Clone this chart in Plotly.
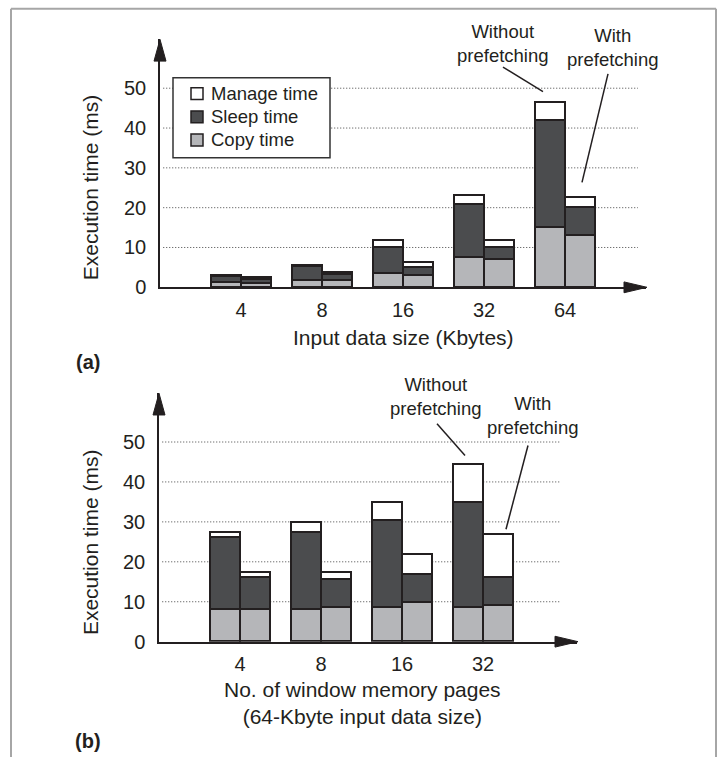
import plotly.graph_objects as go

# ---------------- data ----------------
sizes_kb = ["4", "8", "16", "32", "64"]
copy_without_a = [1.2, 1.8, 3.6, 7.5, 15.0]
sleep_without_a = [1.5, 3.4, 6.4, 13.2, 27.0]
manage_without_a = [0.4, 0.4, 1.9, 2.5, 4.4]
copy_with_a = [1.0, 1.8, 3.1, 6.9, 13.0]
sleep_with_a = [1.0, 1.5, 1.9, 3.0, 7.0]
manage_with_a = [0.5, 0.5, 1.3, 1.9, 2.5]

pages = ["4", "8", "16", "32"]
copy_without_b = [8.1, 8.1, 8.6, 8.6]
sleep_without_b = [18.1, 19.3, 21.9, 26.3]
manage_without_b = [1.2, 2.5, 4.4, 9.4]
copy_with_b = [8.1, 8.6, 9.9, 9.2]
sleep_with_b = [8.0, 7.0, 7.0, 7.0]
manage_with_b = [1.3, 1.8, 5.0, 10.6]

y_ticks = [0, 10, 20, 30, 40, 50]
legend_names = ["Manage time", "Sleep time", "Copy time"]

# ---------------- styling ----------------
W, H = 726, 768
FONT = "Liberation Sans"
INK = "#231f20"
C_COPY = "#b5b6b9"
C_SLEEP = "#4b4c4e"
C_MANAGE = "#ffffff"
BAR_W = 0.375


def px(x):
    return x / W


def py(y):
    return 1 - y / H


fig = go.Figure()


def add_panel(cats, comps, xa, ya):
    n = len(cats)
    xs = [i - BAR_W / 2 for i in range(n)] + [i + BAR_W / 2 for i in range(n)]
    for name, color, (wo, wi) in comps:
        fig.add_trace(go.Bar(
            x=xs, y=list(wo) + list(wi), width=BAR_W, name=name,
            marker=dict(color=color, line=dict(color=INK, width=2)),
            xaxis=xa, yaxis=ya, showlegend=False,
            hoverinfo="y",
        ))


add_panel(sizes_kb, [
    ("Copy time", C_COPY, (copy_without_a, copy_with_a)),
    ("Sleep time", C_SLEEP, (sleep_without_a, sleep_with_a)),
    ("Manage time", C_MANAGE, (manage_without_a, manage_with_a)),
], "x", "y")

add_panel(pages, [
    ("Copy time", C_COPY, (copy_without_b, copy_with_b)),
    ("Sleep time", C_SLEEP, (sleep_without_b, sleep_with_b)),
    ("Manage time", C_MANAGE, (manage_without_b, manage_with_b)),
], "x2", "y2")

xcommon = dict(showgrid=False, zeroline=False, showline=True, linecolor=INK,
               linewidth=1.5, ticks="", tickfont=dict(size=20, color=INK, family=FONT),
               ticklabelstandoff=4, fixedrange=True)
ycommon = dict(showgrid=False, zeroline=False, showline=True, linecolor=INK,
               linewidth=1.5, ticks="", tickvals=y_ticks,
               tickfont=dict(size=20, color=INK, family=FONT),
               ticklabelstandoff=8, fixedrange=True)

fig.update_layout(
    width=W, height=H,
    margin=dict(l=0, r=0, t=0, b=0),
    paper_bgcolor="white", plot_bgcolor="white",
    barmode="stack", bargap=0,
    font=dict(family=FONT, color=INK),
    xaxis=dict(domain=[px(160), px(646)], range=[-1, 5],
               tickvals=list(range(len(sizes_kb))), ticktext=sizes_kb,
               anchor="y", **xcommon),
    yaxis=dict(domain=[py(291.5), py(40)], range=[0, 62.25], anchor="x", **ycommon),
    xaxis2=dict(domain=[px(159), px(577)], range=[-1, 4.16],
                tickvals=list(range(len(pages))), ticktext=pages,
                anchor="y2", **xcommon),
    yaxis2=dict(domain=[py(651), py(399)], range=[0, 62.2], anchor="x2", **ycommon),
    showlegend=False,
)

shapes = []
# dotted gridlines
for v in y_ticks[1:]:
    shapes.append(dict(type="line", xref="x", yref="y", x0=-0.96, x1=4.9, y0=v, y1=v,
                       line=dict(color="#444444", width=1, dash="1px,2px"), layer="below"))
    shapes.append(dict(type="line", xref="x2", yref="y2", x0=-0.96, x1=3.96, y0=v, y1=v,
                       line=dict(color="#444444", width=1, dash="1px,2px"), layer="below"))


def tri(p1, p2, p3):
    return dict(type="path", xref="paper", yref="paper",
                path=f"M{px(p1[0])},{py(p1[1])} L{px(p2[0])},{py(p2[1])} L{px(p3[0])},{py(p3[1])} Z",
                fillcolor=INK, line=dict(color=INK, width=1))


# axis arrowheads
shapes.append(tri((160, 40), (154, 62), (166, 62)))
shapes.append(tri((647, 291.5), (624, 286), (624, 297)))
shapes.append(tri((159, 399), (153, 421), (165, 421)))
shapes.append(tri((578, 651), (555, 645.5), (555, 656.5)))


def seg(a, b, color=INK, width=1.5):
    return dict(type="line", xref="paper", yref="paper",
                x0=px(a[0]), y0=py(a[1]), x1=px(b[0]), y1=py(b[1]),
                line=dict(color=color, width=width))


# leader lines
shapes.append(seg((503, 68), (543, 93)))
shapes.append(seg((608, 75), (582, 185)))
shapes.append(seg((437, 430), (465, 462)))
shapes.append(seg((528, 452), (506, 537)))

# legend box and swatches
shapes.append(dict(type="rect", xref="paper", yref="paper",
                   x0=px(173), y0=py(160), x1=px(330), y1=py(79),
                   fillcolor="white", line=dict(color="#333333", width=1.5), layer="above"))
swatch_colors = [C_MANAGE, C_SLEEP, C_COPY]
legend_rows = [95, 118.5, 142]
for c, yy in zip(swatch_colors, legend_rows):
    shapes.append(dict(type="rect", xref="paper", yref="paper",
                       x0=px(191), x1=px(203), y0=py(yy + 6), y1=py(yy - 6),
                       fillcolor=c, line=dict(color=INK, width=1.5), layer="above"))

# outer frame (open at the bottom, cut by the page edge)
shapes.append(seg((11, 9), (716, 9), color="#a6a6a6", width=2))
shapes.append(seg((11, 9), (11, 768), color="#a6a6a6", width=2))
shapes.append(seg((716, 9), (716, 768), color="#a6a6a6", width=2))
fig.update_layout(shapes=shapes)


def ann(text, x, y, size, bold=False, angle=0, xanchor="center"):
    fig.add_annotation(text=f"<b>{text}</b>" if bold else text,
                       x=px(x), y=py(y), xref="paper", yref="paper",
                       showarrow=False, xanchor=xanchor, yanchor="middle",
                       textangle=angle, font=dict(size=size, color=INK, family=FONT))


for name, yy in zip(legend_names, legend_rows):
    ann(name, 209, yy, 18.5, xanchor="left")

ann("Input data size (Kbytes)", 403, 342, 21)
ann("(a)", 88, 367, 20, bold=True)
ann("Execution time (ms)", 90, 190, 21, angle=-90)
ann("No. of window memory pages<br>(64-Kbyte input data size)", 362, 713, 21)
ann("(b)", 88, 752, 20, bold=True)
ann("Execution time (ms)", 90, 550, 21, angle=-90)

ann("Without<br>prefetching", 503, 44, 18.5)
ann("With<br>prefetching", 613, 48, 18.5)
ann("Without<br>prefetching", 436, 402, 18.5)
ann("With<br>prefetching", 533, 422, 18.5)

fig.write_html("out.html", config={"displayModeBar": False},
               post_script="document.body.style.margin='0px';")
